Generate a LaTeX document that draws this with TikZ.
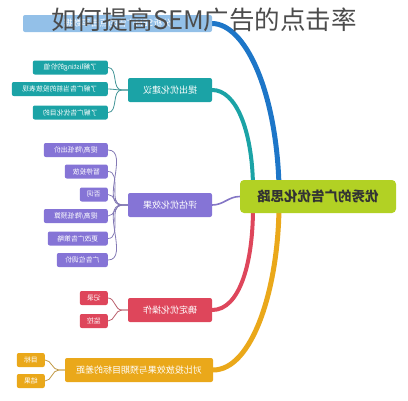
\documentclass[tikz,border=0pt]{standalone}
\usepackage{fontspec}
\usepackage{graphicx}
\setmainfont{Noto Sans CJK SC}
\usetikzlibrary{backgrounds}
\definecolor{bluec}{HTML}{1D76C8}
\definecolor{lightbluec}{HTML}{93C0E8}
\definecolor{tealc}{HTML}{1BA3A6}
\definecolor{purplec}{HTML}{8574D6}
\definecolor{redc}{HTML}{DE465B}
\definecolor{orangec}{HTML}{EAA81A}
\definecolor{hubc}{HTML}{B2D124}
% mirrored labels, as in the picture
\newcommand{\mir}[1]{\reflectbox{#1}}
\begin{document}
\begin{tikzpicture}[x=1pt,y=-1pt,
  box/.style={rounded corners=2pt,text=white,inner sep=2pt,minimum height=14pt,font=\fontsize{6.8}{7}\selectfont},
  leaf/.style={box,anchor=east},
  topic/.style={box,minimum width=84pt,minimum height=24pt,font=\fontsize{9}{10}\selectfont},
  twig/.style={line width=0.8pt},
  limb/.style={line cap=round}]
\useasboundingbox (0,0) rectangle (408,400);
% hub
\node[rounded corners=4pt,fill=hubc,minimum width=156pt,minimum height=33pt,text=black!80,font=\fontsize{13.5}{14}\selectfont\bfseries] (hub) at (318,196.5) {\mir{优秀的广告优化思路}};
% topics
\node[topic,fill=lightbluec,minimum width=189pt,minimum height=17pt] (t1) at (117.5,23.5) {\mir{分析SEM广告的点击率数据}};
\node[topic,fill=tealc] (t2) at (170,90) {\mir{提出优化建议}};
\node[topic,fill=purplec] (t3) at (170,205) {\mir{评估优化效果}};
\node[topic,fill=redc] (t4) at (170,310) {\mir{确定优化操作}};
\node[topic,fill=orangec,minimum width=148pt] (t5) at (139,370) {\mir{对比投放效果与预期目标的差距}};
% leaves
\node[leaf,fill=tealc,minimum width=75pt] (a1) at (108,67.5) {\mir{了解listing的价值}};
\node[leaf,fill=tealc,minimum width=96pt] (a2) at (108,89) {\mir{了解广告当前的投放表现}};
\node[leaf,fill=tealc,minimum width=75pt] (a3) at (108,112.5) {\mir{了解广告优化目的}};
\node[leaf,fill=purplec,minimum width=64pt] (b1) at (108,150) {\mir{提高/降低出价}};
\node[leaf,fill=purplec,minimum width=43pt] (b2) at (108,171.5) {\mir{暂停投放}};
\node[leaf,fill=purplec,minimum width=28pt] (b3) at (108,194.5) {\mir{否词}};
\node[leaf,fill=purplec,minimum width=64pt] (b4) at (108,216) {\mir{提高/降低预算}};
\node[leaf,fill=purplec,minimum width=60pt] (b5) at (108,238.5) {\mir{更改广告策略}};
\node[leaf,fill=purplec,minimum width=51pt] (b6) at (108,260) {\mir{广告位调价}};
\node[leaf,fill=redc,minimum width=28pt] (c1) at (108,298) {\mir{记录}};
\node[leaf,fill=redc,minimum width=28pt] (c2) at (108,321) {\mir{监控}};
\node[leaf,fill=orangec,minimum width=28pt] (d1) at (45,360) {\mir{目标}};
\node[leaf,fill=orangec,minimum width=28pt] (d2) at (45,381) {\mir{结果}};
% hub ends of the limbs
\coordinate (hb) at (279,185);
\coordinate (ht) at (253,185);
\coordinate (hr) at (253,208);
\coordinate (ho) at (279,208);
\begin{pgfonlayer}{background}
\draw[limb,bluec,line width=5pt] (t1.east) .. controls (245,24) and (276,90) .. (hb);
\draw[limb,tealc,line width=4pt] (t2.east) .. controls (236,90) and (252,130) .. (ht);
\draw[limb,purplec!80!gray,line width=1.6pt] (t3.east) to[out=0,in=180] (hub.west);
\draw[limb,redc,line width=4pt] (t4.east) .. controls (240,310) and (253,262) .. (hr);
\draw[limb,orangec,line width=5pt] (t5.east) .. controls (252,370) and (278,290) .. (ho);
\foreach \n in {a1,a2,a3}
  \draw[twig,tealc!60!gray] (\n.east) to[out=0,in=180] ([xshift=-6pt]t2.west) -- (t2.west);
\foreach \n in {b1,b2,b3,b4,b5,b6}
  \draw[twig,purplec!60!gray] (\n.east) to[out=0,in=180] ([xshift=-6pt]t3.west) -- (t3.west);
\foreach \n in {c1,c2}
  \draw[twig,redc!60!gray] (\n.east) to[out=0,in=180] ([xshift=-6pt]t4.west) -- (t4.west);
\foreach \n in {d1,d2}
  \draw[twig,orangec!60!gray] (\n.east) to[out=0,in=180] ([xshift=-6pt]t5.west) -- (t5.west);
\end{pgfonlayer}
% title over the top box
\node[text=black!70,font=\fontsize{25.5}{28}\selectfont] (title) at (204,20) {如何提高SEM广告的点击率};
\end{tikzpicture}
\end{document}
